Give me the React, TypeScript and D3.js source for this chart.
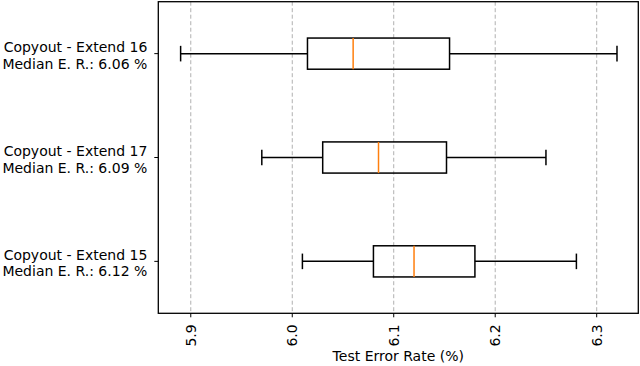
import React from "react";
import * as d3 from "d3";

const categories = ["Copyout - Extend 16", "Copyout - Extend 17", "Copyout - Extend 15"];
const medianLabels = ["Median E. R.: 6.06 %", "Median E. R.: 6.09 %", "Median E. R.: 6.12 %"];
const whiskerLow = [5.89, 5.97, 6.01];
const q1 = [6.015, 6.03, 6.08];
const medians = [6.06, 6.085, 6.12];
const q3 = [6.155, 6.152, 6.18];
const whiskerHigh = [6.32, 6.25, 6.28];
const xTicks = [5.9, 6.0, 6.1, 6.2, 6.3];
const xLabel = "Test Error Rate (%)";

const W = 640;
const H = 366;
const left = 158.3;
const right = 638.3;
const top = 1.7;
const bottom = 313.3;
const font = "DejaVu Sans, sans-serif";
const fs = 14;

export default function App() {
  const x = d3.scaleLinear().domain([5.868, 6.341]).range([left, right]);
  const y = d3.scaleLinear().domain([0.5, 3.5]).range([bottom, top]);
  const pos = (i: number) => y(3 - i);
  const boxH = y(0) - y(0.3);
  const capH = y(0) - y(0.15);

  return (
    <svg width={W} height={H} style={{ position: "absolute", left: 0, top: 0, background: "#fff" }}>
      {xTicks.map((t) => (
        <line key={"g" + t} x1={x(t)} x2={x(t)} y1={top} y2={bottom} stroke="#b0b0b0" strokeWidth={1} strokeDasharray="4,2.5" />
      ))}
      {categories.map((c, i) => {
        const cy = pos(i);
        return (
          <g key={c} stroke="#000" strokeWidth={1.5} fill="none">
            <line x1={x(whiskerLow[i])} x2={x(q1[i])} y1={cy} y2={cy} />
            <line x1={x(q3[i])} x2={x(whiskerHigh[i])} y1={cy} y2={cy} />
            <line x1={x(whiskerLow[i])} x2={x(whiskerLow[i])} y1={cy - capH / 2} y2={cy + capH / 2} />
            <line x1={x(whiskerHigh[i])} x2={x(whiskerHigh[i])} y1={cy - capH / 2} y2={cy + capH / 2} />
            <rect x={x(q1[i])} y={cy - boxH / 2} width={x(q3[i]) - x(q1[i])} height={boxH} />
            <line x1={x(medians[i])} x2={x(medians[i])} y1={cy - boxH / 2} y2={cy + boxH / 2} stroke="#ff7f0e" />
          </g>
        );
      })}
      <rect x={left} y={top} width={right - left} height={bottom - top} fill="none" stroke="#000" strokeWidth={1.3} />
      {xTicks.map((t) => (
        <g key={"t" + t}>
          <line x1={x(t)} x2={x(t)} y1={bottom} y2={bottom + 4} stroke="#000" strokeWidth={1} />
          <text
            transform={`translate(${x(t) + 5},${bottom + 11}) rotate(-90)`}
            textAnchor="end"
            fontFamily={font}
            fontSize={fs}
            fill="#000"
          >
            {t.toFixed(1)}
          </text>
        </g>
      ))}
      {categories.map((c, i) => {
        const cy = pos(i);
        return (
          <g key={"l" + c}>
            <line x1={left - 4} x2={left} y1={cy} y2={cy} stroke="#000" strokeWidth={1} />
            <text x={left - 11} y={cy - 1.5} textAnchor="end" fontFamily={font} fontSize={fs} fill="#000">
              {c}
            </text>
            <text x={left - 11} y={cy + 15} textAnchor="end" fontFamily={font} fontSize={fs} fill="#000">
              {medianLabels[i]}
            </text>
          </g>
        );
      })}
      <text x={(left + right) / 2} y={361} textAnchor="middle" fontFamily={font} fontSize={fs} fill="#000">
        {xLabel}
      </text>
    </svg>
  );
}
